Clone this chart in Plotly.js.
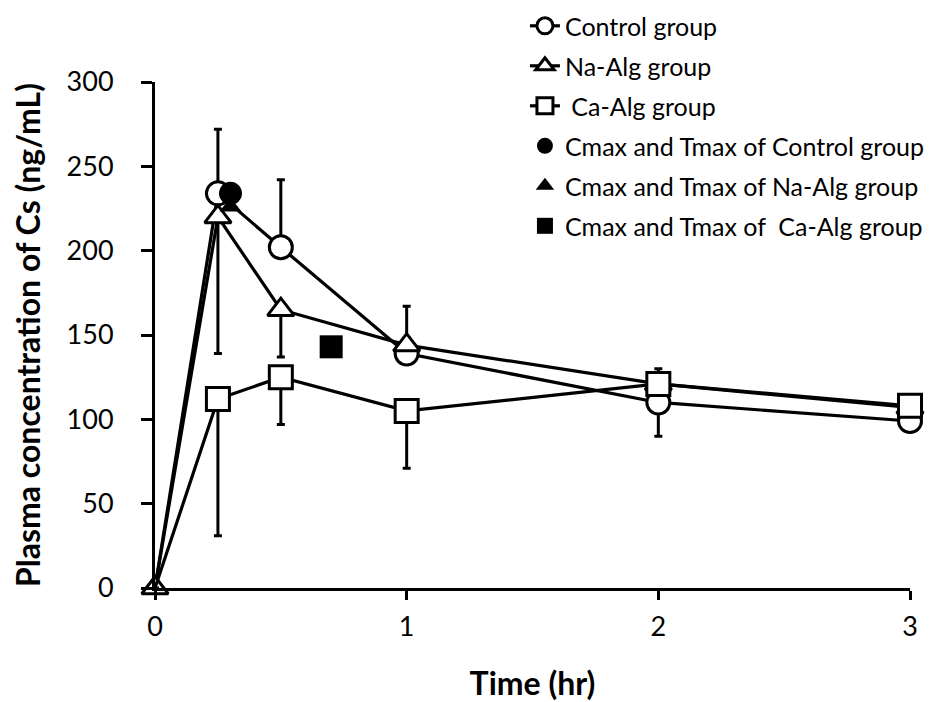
<!DOCTYPE html>
<html>
<head>
<meta charset="utf-8">
<script src="https://cdn.plot.ly/plotly-3.0.1.min.js"></script>
<style>html,body{margin:0;padding:0;background:#fff;}#chart{width:937px;height:702px;}</style>
</head>
<body>
<div id="chart"></div>
<script>
// Time points (hr)
const time = [0, 0.25, 0.5, 1, 2, 3];
// Mean plasma concentration of Cs (ng/mL)
const controlY = [0, 234, 202, 139, 110, 99];
const naAlgY   = [0, 220, 165, 144, 121, 107];
const caAlgY   = [0, 112, 125, 105, 121, 108];
// Error bars (upper / lower extent, as drawn)
const controlErrPlus  = [0, 38, 40, 0, 0, 0];
const controlErrMinus = [0, 0, 0, 0, 20, 0];
const naAlgErrPlus    = [0, 0, 0, 23, 0, 0];
const naAlgErrMinus   = [0, 81, 28, 0, 0, 0];
const caAlgErrPlus    = [0, 0, 0, 0, 9, 0];
const caAlgErrMinus   = [0, 81, 28, 34, 0, 0];
// Cmax / Tmax points
const cmaxControl = {t: [0.30], c: [234]};
const cmaxNaAlg   = {t: [0.30], c: [226]};
const cmaxCaAlg   = {t: [0.70], c: [143]};
// Legend labels
const names = ["Control group", "Na-Alg group", " Ca-Alg group",
  "Cmax and Tmax of Control group", "Cmax and Tmax of Na-Alg group", "Cmax and Tmax of  Ca-Alg group"];

const FONT = "Lato, 'Open Sans', sans-serif";
const errStyle = {type: 'data', symmetric: false, color: 'black', thickness: 3, width: 4};

function series(y, plus, minus, symbol, size, name, grp) {
  return {
    x: time, y: y, mode: 'lines+markers', name: name, legendgroup: grp,
    line: {color: 'black', width: 3.2},
    marker: {symbol: symbol, color: 'white', opacity: 1,
             size: time.map((t, i) => (i === 0 && symbol !== 'triangle-up') ? 0 : size),
             line: {color: 'black', width: 3}},
    error_y: Object.assign({array: plus, arrayminus: minus}, errStyle),
    cliponaxis: false
  };
}

const data = [
  series(controlY, controlErrPlus, controlErrMinus, 'circle', 23, names[0], 'g1'),
  series(naAlgY, naAlgErrPlus, naAlgErrMinus, 'triangle-up', 23, names[1], 'g2'),
  series(caAlgY, caAlgErrPlus, caAlgErrMinus, 'square', 23, names[2], 'g3'),
  {x: cmaxControl.t, y: cmaxControl.c, mode: 'markers', name: names[3], legendgroup: 'g4',
   marker: {symbol: 'circle', color: 'black', size: 23}, cliponaxis: false},
  {x: cmaxNaAlg.t, y: cmaxNaAlg.c, mode: 'markers', name: names[4], legendgroup: 'g5',
   marker: {symbol: 'triangle-up', color: 'black', size: 19}, cliponaxis: false},
  {x: cmaxCaAlg.t, y: cmaxCaAlg.c, mode: 'markers', name: names[5], legendgroup: 'g6',
   marker: {symbol: 'square', color: 'black', size: 23}, cliponaxis: false}
];

const layout = {
  width: 937, height: 702,
  margin: {l: 155, r: 27, t: 82, b: 114, autoexpand: false},
  paper_bgcolor: '#fff', plot_bgcolor: '#fff',
  font: {family: FONT, color: '#000', size: 27},
  showlegend: true,
  legend: {x: 0.49, y: 1.156, xanchor: 'left', yanchor: 'top',
           font: {family: FONT, size: 25, color: '#000'}, bgcolor: 'rgba(0,0,0,0)',
           traceorder: 'grouped', tracegroupgap: 4.5, itemwidth: 30},
  xaxis: {
    range: [0, 3], tickvals: [0, 1, 2, 3], ticktext: ['0', '1', '2', '3'],
    showgrid: false, zeroline: false, showline: true, linecolor: '#000', linewidth: 3,
    ticks: 'outside', ticklen: 9, tickwidth: 3, tickcolor: '#000',
    tickfont: {family: FONT, size: 27}, ticklabelstandoff: 4,
    title: {text: '<b>Time (hr)</b>', font: {family: FONT, size: 32}, standoff: 33}
  },
  yaxis: {
    range: [0, 300], tickvals: [0, 50, 100, 150, 200, 250, 300],
    showgrid: false, zeroline: false, showline: true, linecolor: '#000', linewidth: 3,
    ticks: 'outside', ticklen: 11, tickwidth: 3, tickcolor: '#000',
    tickfont: {family: FONT, size: 27}, ticklabelstandoff: 22,
    title: {text: '<b>Plasma concentration of Cs (ng/mL)</b>', font: {family: FONT, size: 32}, standoff: 17}
  }
};

Plotly.newPlot('chart', data, layout, {staticPlot: true, displayModeBar: false});
</script>
</body>
</html>
